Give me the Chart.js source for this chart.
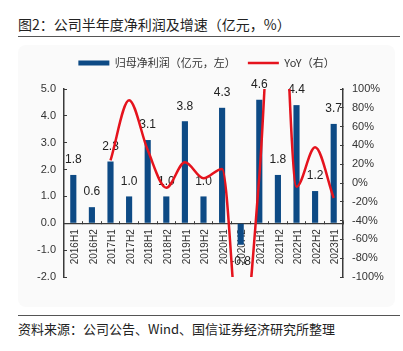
<!DOCTYPE html>
<html>
<head>
<meta charset="utf-8">
<script src="https://cdn.jsdelivr.net/npm/chart.js@4.4.0/dist/chart.umd.min.js"></script>
<style>
    body { margin: 0; background: #fff; width: 403px; height: 351px; position: relative; overflow: hidden; font-family: "Noto Sans CJK SC", sans-serif; }
    #titulo { position: absolute; left: 18px; top: 13px; font-size: 14px; line-height: 22px; color: #222; }
    .linea { position: absolute; left: 18px; width: 382px; height: 0; border-top: 1.5px solid #555; }
    #panel { position: absolute; left: 18px; top: 45px; width: 377px; height: 262px; background: #fafafa; border-radius: 8px; }
    #contenedor { position: absolute; left: 18px; top: 42px; width: 377px; height: 265px; }
    #fuente { position: absolute; left: 18px; top: 320px; font-size: 13px; line-height: 18px; color: #222; }
</style>
</head>
<body>
<div id="titulo">图2：公司半年度净利润及增速（亿元，%）</div>
<div class="linea" style="top:36px"></div>
<div id="panel"></div>
<div id="contenedor"><canvas id="grafica"></canvas></div>
<div class="linea" style="top:315px"></div>
<div id="fuente">资料来源：公司公告、Wind、国信证券经济研究所整理</div>

<script>
// Datos
const categorias = ['2016H1', '2016H2', '2017H1', '2017H2', '2018H1', '2018H2', '2019H1', '2019H2',
    '2020H1', '2020H2', '2021H1', '2021H2', '2022H1', '2022H2', '2023H1'];
const beneficioNeto = [1.8, 0.6, 2.3, 1.0, 3.1, 1.0, 3.8, 1.0, 4.3, -0.8, 4.6, 1.8, 4.4, 1.2, 3.7];
const crecimientoYoY = [null, null, 24, 88, 35, -5, 22, 5, 15, -180, 7, 310, -4, 38, -16];
const ticksIzquierda = [-2, -1, 0, 1, 2, 3, 4, 5];
const ticksDerecha = [-100, -80, -60, -40, -20, 0, 20, 40, 60, 80, 100];

const colorEje = '#3a3a3a';
const colorTexto = '#333';

// Etiquetas de valor sobre las barras
const etiquetasValores = {
    id: 'etiquetasValores',
    beforeDatasetsDraw(chart) {
        const { ctx } = chart;
        const meta = chart.getDatasetMeta(0);
        ctx.save();
        ctx.font = '12px "Liberation Sans"';
        ctx.fillStyle = '#222';
        ctx.textAlign = 'center';
        ctx.textBaseline = 'middle';
        meta.data.forEach((barra, i) => {
            const valor = beneficioNeto[i];
            const y = valor >= 0 ? barra.y - 15 : barra.y + 17;
            ctx.fillText(valor.toFixed(1), barra.x, y);
        });
        ctx.restore();
    }
};

// Espacio extra bajo la leyenda
const margenLeyenda = {
    id: 'margenLeyenda',
    beforeInit(chart) {
        const ajusteOriginal = chart.legend.fit;
        chart.legend.fit = function () {
            ajusteOriginal.call(this);
            this.height += 10.5;
        };
    }
};

const ctx = document.getElementById('grafica').getContext('2d');

new Chart(ctx, {
    type: 'bar',
    data: {
        labels: categorias,
        datasets: [{
            label: '归母净利润（亿元，左）',
            data: beneficioNeto,
            backgroundColor: '#0d4a85',
            borderWidth: 0,
            barPercentage: 0.33,
            categoryPercentage: 1,
            yAxisID: 'y',
            order: 1
        }, {
            type: 'line',
            label: 'YoY（右）',
            data: crecimientoYoY,
            borderColor: '#e5131d',
            backgroundColor: '#e5131d',
            borderWidth: 2.5,
            pointRadius: 0,
            cubicInterpolationMode: 'monotone',
            fill: false,
            yAxisID: 'y1',
            order: 0
        }]
    },
    options: {
        responsive: true,
        maintainAspectRatio: false,
        animation: false,
        layout: {
            padding: { top: 3.5, bottom: 30, left: 0, right: 0 }
        },
        plugins: {
            tooltip: { enabled: false },
            legend: {
                position: 'top',
                labels: {
                    usePointStyle: true,
                    pointStyleWidth: 31,
                    boxHeight: 5,
                    padding: 12,
                    color: colorTexto,
                    font: { family: '"Noto Sans CJK SC"', size: 11 },
                    sort: (a, b) => a.datasetIndex - b.datasetIndex,
                    generateLabels: (chart) => {
                        const items = Chart.defaults.plugins.legend.labels.generateLabels(chart);
                        return items.map(item => {
                            item.pointStyle = item.datasetIndex === 0 ? 'rect' : 'line';
                            return item;
                        });
                    }
                }
            }
        },
        scales: {
            x: {
                position: { y: 0 },
                offset: true,
                grid: {
                    offset: true,
                    drawOnChartArea: false,
                    tickLength: -3,
                    color: colorEje
                },
                border: { color: colorEje, width: 1.2 },
                ticks: {
                    autoSkip: false,
                    maxRotation: 90,
                    minRotation: 90,
                    padding: 9,
                    labelOffset: 2,
                    color: colorTexto,
                    font: { family: '"Liberation Sans"', size: 10 }
                },
                afterFit: (escala) => { escala.height = 0; }
            },
            y: {
                position: 'left',
                min: -2,
                max: 5,
                grid: { drawOnChartArea: false, tickLength: -3, color: colorEje },
                border: { color: colorEje, width: 1.5 },
                ticks: {
                    padding: 11,
                    color: colorTexto,
                    font: { family: '"Liberation Sans"', size: 11 },
                    callback: (v) => v.toFixed(1)
                },
                afterBuildTicks: (escala) => { escala.ticks = ticksIzquierda.map(v => ({ value: v })); },
                afterFit: (escala) => { escala.width = 46; }
            },
            y1: {
                position: 'right',
                min: -100,
                max: 100,
                grid: { drawOnChartArea: false, tickLength: -3, color: colorEje },
                border: { color: colorEje, width: 1.5 },
                ticks: {
                    padding: 12,
                    color: colorTexto,
                    font: { family: '"Liberation Sans"', size: 11 },
                    callback: (v) => v + '%'
                },
                afterBuildTicks: (escala) => { escala.ticks = ticksDerecha.map(v => ({ value: v })); },
                afterFit: (escala) => { escala.width = 52; }
            }
        }
    },
    plugins: [etiquetasValores, margenLeyenda]
});
</script>
</body>
</html>
